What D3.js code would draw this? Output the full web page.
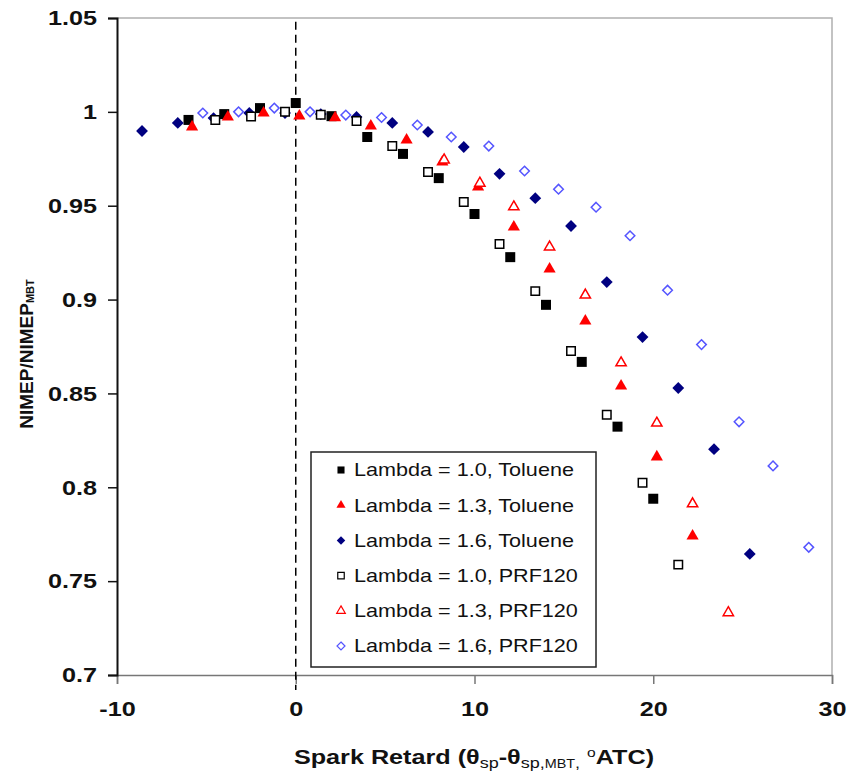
<!DOCTYPE html>
<html>
<head>
<meta charset="utf-8">
<script src="https://cdn.jsdelivr.net/npm/d3@7"></script>
<style>
  body { margin: 0; background: #fff; }
  text { font-family: "Liberation Sans", Arial, sans-serif; }
</style>
</head>
<body>
<div id="chart"></div>
<script>
// series: [spark retard, NIMEP/NIMEP_MBT]
const toluene10 = [[-6,0.9957],[-4,0.9988],[-2,1.002],[0,1.0047],[2,0.9977],[4,0.9866],[6,0.9776],[8,0.9647],[10,0.9456],[12,0.9226],[14,0.8972],[16,0.8668],[18,0.8323],[20,0.7939]];
const toluene13 = [[-5.8,0.992],[-3.8,0.9973],[-1.8,0.9994],[0.2,0.9978],[2.2,0.9968],[4.2,0.9925],[6.2,0.985],[8.2,0.9733],[10.2,0.96],[12.2,0.9387],[14.2,0.9163],[16.2,0.8886],[18.2,0.854],[20.2,0.8162],[22.2,0.774]];
const toluene16 = [[-8.6,0.9898],[-6.6,0.9941],[-4.6,0.9967],[-2.6,0.9994],[-0.6,0.9994],[1.4,0.9988],[3.4,0.9973],[5.4,0.9941],[7.4,0.9893],[9.4,0.9813],[11.4,0.967],[13.4,0.954],[15.4,0.9392],[17.4,0.9093],[19.4,0.88],[21.4,0.8529],[23.4,0.8203],[25.4,0.7645]];
const prf10 = [[-4.5,0.9957],[-2.5,0.9975],[-0.6,1.0],[1.4,0.9985],[3.4,0.9951],[5.4,0.9818],[7.4,0.968],[9.4,0.952],[11.4,0.9296],[13.4,0.9045],[15.4,0.8726],[17.4,0.8386],[19.4,0.8024],[21.4,0.7588]];
const prf13 = [[8.3,0.9744],[10.3,0.962],[12.2,0.9494],[14.2,0.928],[16.2,0.9024],[18.2,0.8663],[20.2,0.8342],[22.2,0.7912],[24.2,0.7332]];
const prf16 = [[-5.2,0.9994],[-3.2,1.0],[-1.2,1.002],[0.8,1.0],[2.8,0.9983],[4.8,0.997],[6.8,0.993],[8.7,0.9866],[10.8,0.9818],[12.8,0.9685],[14.7,0.9588],[16.8,0.9492],[18.7,0.934],[20.8,0.905],[22.7,0.876],[24.8,0.8349],[26.7,0.8114],[28.7,0.768]];

const legendLabels = ["Lambda = 1.0, Toluene","Lambda = 1.3, Toluene","Lambda = 1.6, Toluene",
                      "Lambda = 1.0, PRF120","Lambda = 1.3, PRF120","Lambda = 1.6, PRF120"];
const xTicks = [-10, 0, 10, 20, 30];
const yTicks = [0.7, 0.75, 0.8, 0.85, 0.9, 0.95, 1, 1.05];

const width = 849, height = 776;
const SX = 1.2; // the picture is stretched sideways, so is the text

// square diamond (d3's own is narrow)
const diamond = {
  draw(ctx, size) {
    const r = Math.sqrt(size / 2);
    ctx.moveTo(0, -r); ctx.lineTo(r, 0); ctx.lineTo(0, r); ctx.lineTo(-r, 0); ctx.closePath();
  }
};

const series = [
  {data: toluene10, type: d3.symbolSquare,   size: 100, fill: "#000",    stroke: "none",    lsize: 50},
  {data: toluene13, type: d3.symbolTriangle, size: 64,  fill: "#ff0000", stroke: "none",    lsize: 36},
  {data: toluene16, type: diamond,           size: 70,  fill: "#000080", stroke: "none",    lsize: 36},
  {data: prf10,     type: d3.symbolSquare,   size: 72,  fill: "#fff",    stroke: "#000",    lsize: 42},
  {data: prf13,     type: d3.symbolTriangle, size: 46,  fill: "#fff",    stroke: "#ff0000", lsize: 32},
  {data: prf16,     type: diamond,           size: 46,  fill: "#fff",    stroke: "#5555ff", lsize: 32}
];

const x = d3.scaleLinear().domain([-10, 30]).range([117, 832]);
const y = d3.scaleLinear().domain([0.7, 1.05]).range([675, 18]);

const svg = d3.select("#chart").append("svg")
  .attr("width", width)
  .attr("height", height);

// plot frame (top and right in grey)
svg.append("path")
  .attr("d", `M${x(-10)},${y(1.05)}H${x(30)}V${y(0.7)}`)
  .attr("fill", "none")
  .attr("stroke", "#b0b0b0")
  .attr("stroke-width", 1.5);

// axes
const xAxis = svg.append("g")
  .attr("transform", `translate(0,${y(0.7)})`)
  .call(d3.axisBottom(x).tickValues(xTicks).tickSize(9).tickPadding(17).tickFormat(d => String(d)));
xAxis.select(".domain").attr("stroke", "#777").attr("stroke-width", 1.5);
xAxis.selectAll(".tick line").attr("stroke", "#777").attr("stroke-width", 1.5);
xAxis.selectAll(".tick text")
  .attr("font-size", 21).attr("font-weight", "bold").attr("fill", "#111")
  .attr("font-family", "Liberation Sans, Arial, sans-serif")
  .attr("transform", `scale(${SX},1)`);

const yAxis = svg.append("g")
  .attr("transform", `translate(${x(-10)},0)`)
  .call(d3.axisLeft(y).tickValues(yTicks).tickSize(9).tickPadding(11).tickFormat(d => String(+d.toFixed(2))));
yAxis.select(".domain").attr("stroke", "#111").attr("stroke-width", 2);
yAxis.selectAll(".tick line").attr("stroke", "#111").attr("stroke-width", 1.5);
yAxis.selectAll(".tick text")
  .attr("font-size", 21).attr("font-weight", "bold").attr("fill", "#111")
  .attr("font-family", "Liberation Sans, Arial, sans-serif")
  .attr("x", -20 / SX)
  .attr("transform", `scale(${SX},1)`);

// dashed MBT line
svg.append("line")
  .attr("x1", x(0)).attr("x2", x(0))
  .attr("y1", y(1.048)).attr("y2", y(0.7) + 15)
  .attr("stroke", "#000")
  .attr("stroke-width", 1.5)
  .attr("stroke-dasharray", "8,5");

// points
series.forEach(s => {
  const sym = d3.symbol().type(s.type).size(s.size);
  svg.append("g").selectAll("path")
    .data(s.data)
    .join("path")
    .attr("transform", d => `translate(${x(d[0])},${y(d[1])})`)
    .attr("d", sym)
    .attr("fill", s.fill)
    .attr("stroke", s.stroke)
    .attr("stroke-width", 1.5);
});

// legend
const lg = svg.append("g").attr("transform", "translate(311,452)");
lg.append("rect")
  .attr("width", 285).attr("height", 215)
  .attr("fill", "#fff")
  .attr("stroke", "#222")
  .attr("stroke-width", 1.5);
series.forEach((s, i) => {
  const row = lg.append("g").attr("transform", `translate(30,${18 + i * 35.2})`);
  row.append("path")
    .attr("d", d3.symbol().type(s.type).size(s.lsize))
    .attr("fill", s.fill)
    .attr("stroke", s.stroke)
    .attr("stroke-width", 1.2);
  row.append("text")
    .attr("transform", `translate(13,0) scale(${SX},1)`)
    .attr("dy", "0.36em")
    .attr("font-size", 18)
    .attr("fill", "#111")
    .text(legendLabels[i]);
});

// axis titles
const xt = svg.append("text")
  .attr("transform", `translate(474,764) scale(${SX},1)`)
  .attr("text-anchor", "middle")
  .attr("font-size", 21)
  .attr("font-weight", "bold")
  .attr("fill", "#111");
xt.append("tspan").text("Spark Retard (θ");
xt.append("tspan").attr("font-size", 15).attr("font-weight", "normal").attr("dy", 4).text("sp");
xt.append("tspan").attr("dy", -4).text("-θ");
xt.append("tspan").attr("font-size", 15).attr("font-weight", "normal").attr("dy", 4).text("sp,");
xt.append("tspan").attr("font-size", 12).attr("font-weight", "normal").text("MBT");
xt.append("tspan").attr("font-size", 15).attr("font-weight", "normal").text(",");
xt.append("tspan").attr("dy", -4).text(" ");
xt.append("tspan").attr("font-size", 13).attr("font-weight", "normal").attr("dy", -7).text("o");
xt.append("tspan").attr("dy", 7).text("ATC)");

const yt = svg.append("text")
  .attr("transform", "translate(33,354) rotate(-90)")
  .attr("text-anchor", "middle")
  .attr("font-size", 19)
  .attr("font-weight", "bold")
  .attr("fill", "#111");
yt.append("tspan").text("NIMEP/NIMEP");
yt.append("tspan").attr("font-size", 11).attr("dy", 1).text("MBT");
</script>
</body>
</html>
